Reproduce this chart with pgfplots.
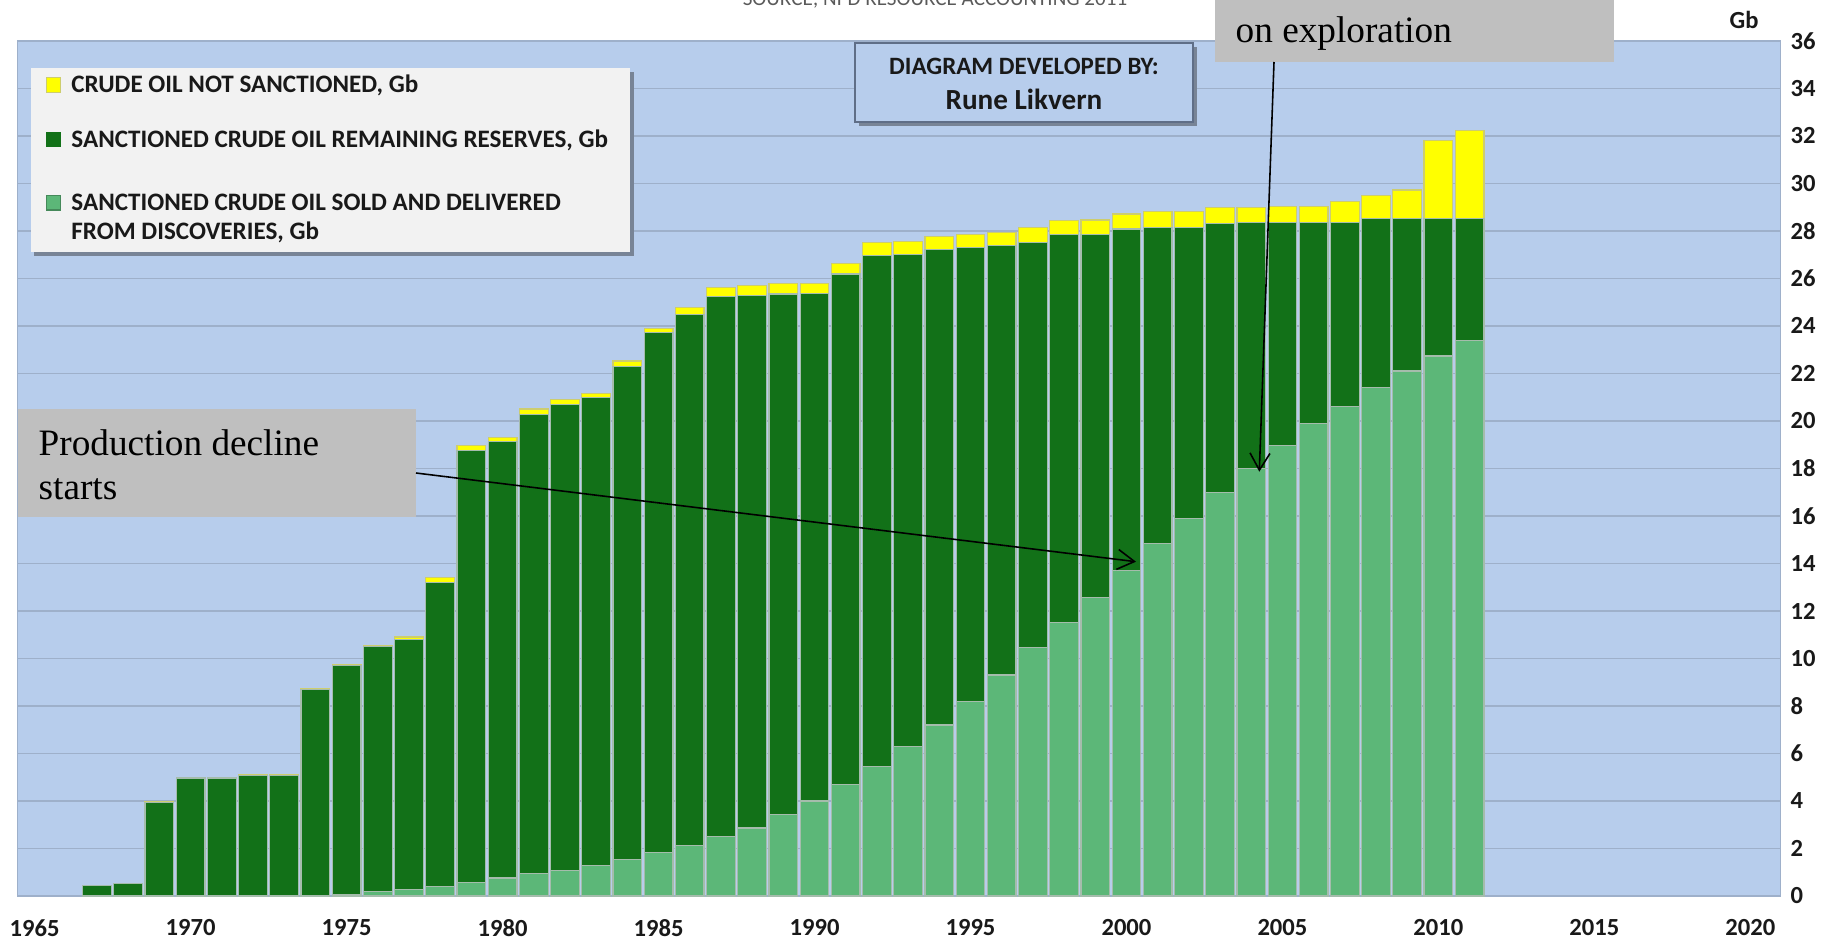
\documentclass[border=0pt]{standalone}
\usepackage{fontspec}
\setmainfont{Carlito}
\newfontfamily\timesf{Liberation Serif}
\usepackage{pgfplots}
\pgfplotsset{compat=1.18}
\usepackage{pgfplotstable}
\usetikzlibrary{arrows.meta,shadows}

\definecolor{bgblue}{RGB}{183,205,236}
\definecolor{gridc}{RGB}{158,176,202}
\definecolor{dkgreen}{RGB}{18,113,24}
\definecolor{ltgreen}{RGB}{92,183,120}
\definecolor{ylw}{RGB}{255,255,0}
\definecolor{ylwedge}{RGB}{205,205,110}
\definecolor{barline}{RGB}{165,188,172}
\definecolor{calloutgray}{RGB}{191,191,191}
\definecolor{legendfill}{RGB}{242,242,242}
\definecolor{shadowc}{RGB}{120,132,150}
\definecolor{boxedge}{RGB}{95,110,135}
\definecolor{textc}{RGB}{25,25,25}
\definecolor{srcgray}{RGB}{90,90,90}

% Norwegian crude oil, Gb: sold/delivered, remaining sanctioned, not sanctioned
\pgfplotstableread{
year sold rem ns
1967 0.00 0.44 0.00
1968 0.00 0.51 0.00
1969 0.00 3.95 0.02
1970 0.00 4.97 0.02
1971 0.00 4.97 0.02
1972 0.00 5.06 0.03
1973 0.00 5.06 0.03
1974 0.03 8.67 0.05
1975 0.07 9.63 0.05
1976 0.20 10.30 0.05
1977 0.28 10.52 0.10
1978 0.41 12.79 0.20
1979 0.58 18.19 0.21
1980 0.76 18.36 0.18
1981 0.94 19.34 0.22
1982 1.08 19.62 0.20
1983 1.30 19.68 0.19
1984 1.54 20.75 0.23
1985 1.82 21.89 0.18
1986 2.12 22.36 0.30
1987 2.51 22.71 0.40
1988 2.86 22.43 0.42
1989 3.42 21.92 0.44
1990 4.00 21.37 0.41
1991 4.69 21.49 0.44
1992 5.45 21.50 0.56
1993 6.30 20.72 0.53
1994 7.20 20.03 0.54
1995 8.20 19.10 0.56
1996 9.30 18.10 0.54
1997 10.45 17.06 0.62
1998 11.50 16.35 0.60
1999 12.55 15.31 0.60
2000 13.70 14.38 0.63
2001 14.85 13.29 0.67
2002 15.90 12.24 0.67
2003 17.00 11.32 0.66
2004 18.00 10.36 0.62
2005 18.95 9.41 0.66
2006 19.90 8.46 0.66
2007 20.60 7.76 0.87
2008 21.40 7.13 0.95
2009 22.10 6.43 1.19
2010 22.73 5.80 3.29
2011 23.38 5.15 3.68
}\oil

% legend swatch drawn with plain pgf so the legend shadow does not reach it
% #1 fill, #2 edge, #3 vertical offset from the row baseline
\newcommand\swatch[3]{%
  \pgfsetlinewidth{0.12mm}\pgfsetfillcolor{#1}\pgfsetstrokecolor{#2}%
  \pgfpathrectangle{\pgfpoint{0mm}{#3+0.06mm}}{\pgfpoint{1.45mm}{1.45mm}}%
  \pgfusepath{fill,stroke}}

\begin{document}
\begin{tikzpicture}
\useasboundingbox (0,0) rectangle (182.7mm,94mm);
\begin{axis}[
    at={(1.75mm,4.4mm)}, anchor=south west,
    scale only axis, width=176.25mm, height=85.52mm,
    ybar stacked, bar width=0.92,
    xmin=1964.45, xmax=2020.95, ymin=0, ymax=36,
    xtick={1965,1970,...,2020}, ytick={0,2,...,36},
    yticklabel pos=right,
    tick style={draw=none},
    /pgf/number format/1000 sep={},
    /pgf/number format/assume math mode=true,
    ticklabel style={font=\bfseries\fontsize{7}{8}\selectfont, text=textc},
    xticklabel style={anchor=center, yshift=-3.2mm},
    yticklabel style={anchor=west, inner sep=0pt, xshift=1mm},
    ymajorgrids, grid style={gridc, line width=0.15mm},
    axis line style={gridc, line width=0.1mm},
    axis background/.style={fill=bgblue},
    reverse legend,
    legend style={at={(0.0071,0.9687)}, anchor=north west,
        fill=legendfill, draw=none,
        drop shadow={shadow xshift=0.35mm, shadow yshift=-0.35mm, fill=shadowc, opacity=1},
        font=\bfseries\fontsize{7.15}{8.3}\selectfont, text=textc,
        cells={anchor=base west, align=left},
        row sep=1.74mm, inner xsep=1.5mm, inner ysep=0mm,
        /tikz/every odd column/.append style={column sep=0.3mm}},
]
\addplot[fill=ltgreen, draw=barline, line width=0.12mm,
    legend image code/.code={\swatch{ltgreen}{ltgreen!75!black}{8.3pt}}]
    table[x=year, y=sold] {\oil};
\addlegendentry{\rule{0pt}{2.65mm}SANCTIONED CRUDE OIL SOLD AND DELIVERED\\FROM DISCOVERIES, Gb}
\addplot[fill=dkgreen, draw=barline, line width=0.12mm,
    legend image code/.code={\swatch{dkgreen}{dkgreen}{0mm}}]
    table[x=year, y=rem] {\oil};
\addlegendentry{SANCTIONED CRUDE OIL REMAINING RESERVES, Gb}
\addplot[fill=ylw, draw=ylwedge, line width=0.12mm,
    legend image code/.code={\swatch{ylw}{ylwedge}{0mm}}]
    table[x=year, y=ns] {\oil};
\addlegendentry{CRUDE OIL NOT SANCTIONED, Gb}
\end{axis}

% unit label and cut-off source line
\node[font=\bfseries\fontsize{7}{8}\selectfont, text=textc] at (174.4mm,92.0mm) {Gb};
\node[font=\fontsize{6}{7}\selectfont, text=srcgray] at (93.5mm,94.0mm) {SOURCE; NPD RESOURCE ACCOUNTING 2011};

% credit box
\fill[shadowc] (85.85mm,89.35mm) rectangle (119.65mm,81.45mm);
\draw[boxedge, fill=bgblue, line width=0.15mm] (85.5mm,89.7mm) rectangle (119.3mm,81.8mm);
\node[anchor=base, inner sep=0pt, font=\bfseries\fontsize{7.1}{8}\selectfont, text=textc]
    at (102.4mm,86.56mm) {DIAGRAM DEVELOPED BY:};
\node[anchor=base, inner sep=0pt, font=\bfseries\fontsize{8.3}{9}\selectfont, text=textc]
    at (102.4mm,83.08mm) {Rune Likvern};

% callouts
\fill[calloutgray] (121.5mm,95mm) rectangle (161.4mm,87.8mm);
\node[anchor=base west, inner sep=0pt, font=\timesf\fontsize{10.6}{12.5}\selectfont]
    at (123.5mm,89.8mm) {on exploration};
\draw[line width=0.45pt, -{Straight Barb[length=1.7mm,width=2.0mm]}]
    (127.4mm,87.8mm) -- (125.93mm,46.83mm);

\fill[calloutgray] (1.75mm,53.1mm) rectangle (41.6mm,42.3mm);
\node[anchor=base west, inner sep=0pt, font=\timesf\fontsize{10.6}{12.5}\selectfont]
    at (3.8mm,48.5mm) {Production decline};
\node[anchor=base west, inner sep=0pt, font=\timesf\fontsize{10.6}{12.5}\selectfont]
    at (3.8mm,44.1mm) {starts};
\draw[line width=0.45pt, -{Straight Barb[length=1.7mm,width=2.0mm]}]
    (41.6mm,46.7mm) -- (113.6mm,37.83mm);
\end{tikzpicture}
\end{document}
